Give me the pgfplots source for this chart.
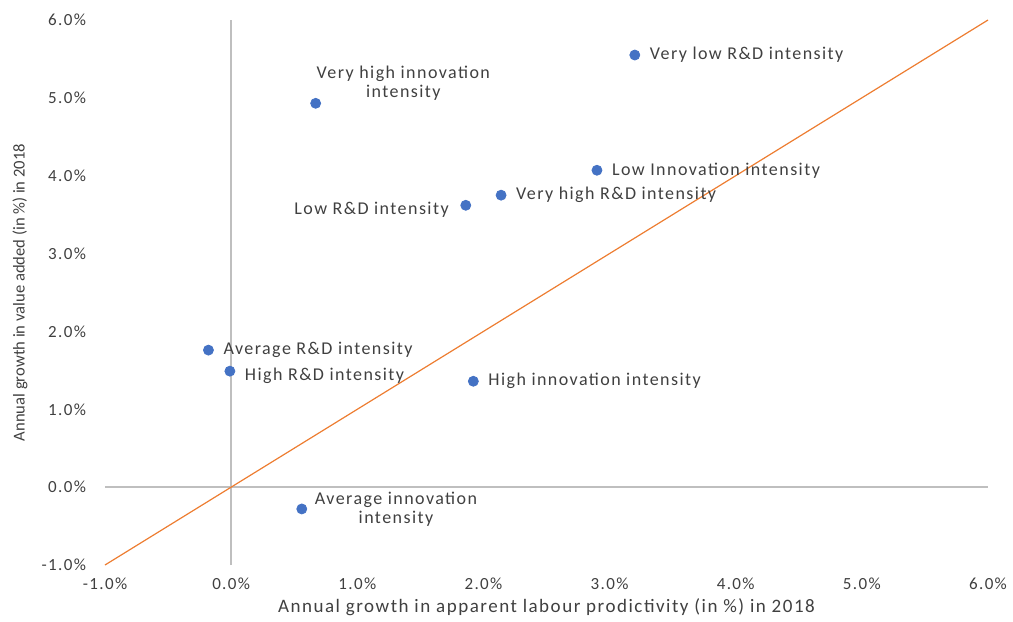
\documentclass[border=0pt]{standalone}
\usepackage{fontspec}
\setmainfont{Carlito}[LetterSpace=8]
\newfontfamily\plainfont{Carlito}
\usepackage{pgfplots}
\pgfplotsset{compat=1.18}
\definecolor{dotblue}{HTML}{4472C4}
\definecolor{lineorange}{HTML}{ED7D31}
\definecolor{axgray}{HTML}{BFBFBF}
\definecolor{txt}{HTML}{404040}
\begin{document}
\begin{tikzpicture}[font=\fontsize{8.5}{9.5}\selectfont]
\begin{axis}[
  name=ax,
  scale only axis,
  width=441.5pt, height=272.5pt,
  xmin=-1, xmax=6, ymin=-1, ymax=6,
  axis line style={draw=none},
  xtick={-1,0,...,6}, ytick={-1,0,...,6},
  major tick length=0pt,
  /pgf/number format/assume math mode=true,
  xticklabel={\pgfmathprintnumber[fixed,fixed zerofill,precision=1]{\tick}\%},
  yticklabel={\pgfmathprintnumber[fixed,fixed zerofill,precision=1]{\tick}\%},
  ticklabel style={text=txt},
  xticklabel style={yshift=-3pt},
  yticklabel style={xshift=-6pt},
  extra x ticks={0}, extra y ticks={0},
  extra x tick labels={}, extra y tick labels={},
  extra tick style={grid=major, major grid style={axgray, line width=0.7pt}},
  xlabel={Annual growth in apparent labour prodictivity (in \%) in 2018},
  ylabel={Annual growth in value added (in \%) in 2018},
  xlabel style={at={(axis description cs:0.5,-0.077)}, anchor=center, text=txt, font=\fontsize{9.5}{11}\selectfont},
  ylabel style={at={(axis description cs:-0.0963,0.5)}, anchor=center, text=txt, font=\plainfont\fontsize{8.3}{10}\selectfont},
  clip=false,
  nodes near coords style={text=txt, font=\fontsize{9}{9.5}\selectfont},
]
\addplot[lineorange, line width=0.6pt] coordinates {(-1,-1) (6,6)};
% labels to the right
\addplot[only marks, mark=*, mark size=2.5pt, dotblue,
  point meta=explicit symbolic, nodes near coords,
  every node near coord/.append style={anchor=west, xshift=4pt}]
  coordinates {
  (3.20,5.55) [Very low R\&D intensity]
  (2.90,4.07) [Low Innovation intensity]
  (2.14,3.75) [Very high R\&D intensity]
  (-0.18,1.76) [Average R\&D intensity]
  (1.92,1.36) [High innovation intensity]
  };
\addplot[only marks, mark=*, mark size=2.5pt, dotblue,
  point meta=explicit symbolic, nodes near coords,
  every node near coord/.append style={anchor=west, xshift=4pt, yshift=-2.5pt}]
  coordinates {(-0.01,1.49) [High R\&D intensity]};
\addplot[only marks, mark=*, mark size=2.5pt, dotblue,
  point meta=explicit symbolic, nodes near coords,
  every node near coord/.append style={anchor=east, xshift=-5pt, yshift=-2pt}]
  coordinates {(1.86,3.62) [Low R\&D intensity]};
\addplot[only marks, mark=*, mark size=2.5pt, dotblue,
  point meta=explicit symbolic, nodes near coords,
  every node near coord/.append style={anchor=south west, align=center, xshift=-3pt, yshift=-2pt}]
  coordinates {(0.67,4.93) [{Very high innovation\\intensity}]};
\addplot[only marks, mark=*, mark size=2.5pt, dotblue,
  point meta=explicit symbolic, nodes near coords,
  every node near coord/.append style={anchor=west, align=center, xshift=3pt}]
  coordinates {(0.56,-0.28) [{Average innovation\\intensity}]};
\end{axis}
\pgfresetboundingbox
\path ([shift={(-52.5pt,-28pt)}]ax.south west) rectangle ([shift={(12.5pt,10pt)}]ax.north east);
\end{tikzpicture}
\end{document}
